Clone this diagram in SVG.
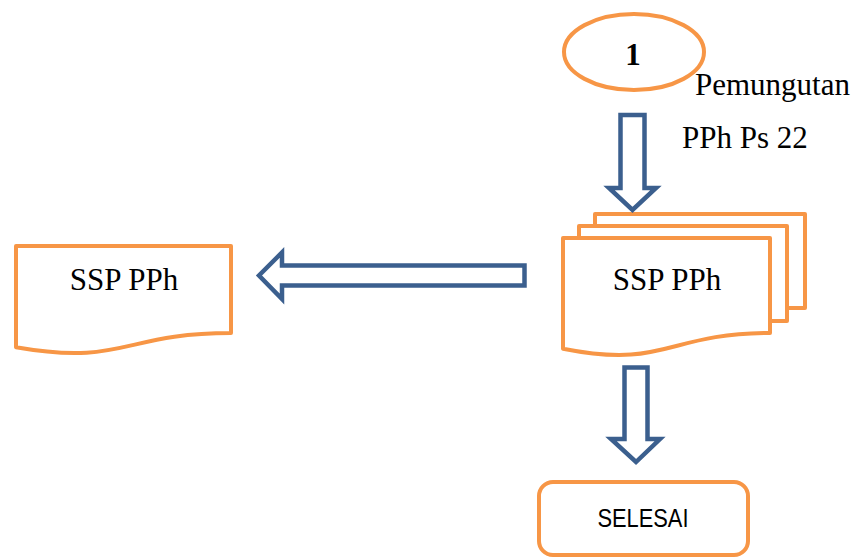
<svg xmlns="http://www.w3.org/2000/svg" width="861" height="558" viewBox="0 0 861 558">
<style>
.o{fill:#fff;stroke:#F79646;stroke-width:4;stroke-linejoin:round}
.a{fill:#fff;stroke:#3B5F8E;stroke-width:4.5;stroke-linejoin:miter}
.t{font-family:"Liberation Serif","Times New Roman",serif;font-size:31px;fill:#000}
.s{font-family:"Liberation Sans",Arial,sans-serif;font-size:25px;fill:#000}
</style>
<rect width="861" height="558" fill="#fff"/>
<g id="start">
<ellipse class="o" cx="634" cy="52" rx="70" ry="38"/>
<text class="t" x="633" y="65" text-anchor="middle" font-weight="bold">1</text>
</g>
<g id="label">
<text class="t" x="695" y="95">Pemungutan</text>
<text class="t" x="682" y="148">PPh Ps 22</text>
</g>
<g id="ssp-stack">
<rect class="o" x="595" y="214" width="210" height="94"/>
<rect class="o" x="579" y="226" width="208" height="95"/>
<path class="o" d="M563,238 H770 V333 C666.5,333 666.5,369.2 563,348.7 Z"/>
<text class="t" x="667" y="290" text-anchor="middle">SSP PPh</text>
</g>
<g id="ssp-left">
<path class="o" d="M16,246 H231 V333 C123.5,333 123.5,366.2 16,347.3 Z"/>
<text class="t" x="124" y="290" text-anchor="middle">SSP PPh</text>
</g>
<g id="selesai">
<rect class="o" x="539" y="482" width="209" height="73" rx="14" ry="14"/>
<text class="s" x="643" y="527" text-anchor="middle" textLength="91" lengthAdjust="spacingAndGlyphs">SELESAI</text>
</g>
<g id="connectors">
<path class="a" d="M620.5,115 H644.5 V188 H656 L632.5,210 L609,188 H620.5 Z"/>
<path class="a" d="M524.5,265.5 V285.5 H282 V299 L259,275.5 L282,252.5 V265.5 Z"/>
<path class="a" d="M624.5,367.5 H647.5 V439 H660 L636,462 L611,439 H624.5 Z"/>
</g>
</svg>
